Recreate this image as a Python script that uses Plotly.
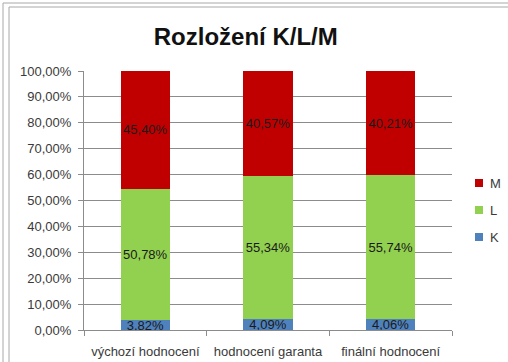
import plotly.graph_objects as go

# Score distribution per evaluation stage (percent of total)
categories = ["výchozí hodnocení", "hodnocení garanta", "finální hodnocení"]
k_values = [3.82, 4.09, 4.06]
l_values = [50.78, 55.34, 55.74]
m_values = [45.40, 40.57, 40.21]

series = [("K", k_values, "#4F81BD"), ("L", l_values, "#92D050"), ("M", m_values, "#C00000")]

FONT = "Liberation Sans"
GRID = "#8C8C8C"
TEXT = "#3A3A3A"

W, H = 508, 362
L_M, R_M, T_M, B_M = 84, 56, 71, 32
PW, PH = W - L_M - R_M, H - T_M - B_M


def px_x(x):
    return (x - L_M) / PW


def px_y(y):
    return (H - B_M - y) / PH


fig = go.Figure()
for name, vals, color in series:
    fig.add_trace(go.Bar(
        x=categories, y=vals, name=name,
        marker=dict(color=color, line=dict(width=0)),
        texttemplate="%{y:.2f}%", textposition="inside", textangle=0,
        insidetextanchor="middle", constraintext="none",
        textfont=dict(family=FONT, size=13, color="#1A1A1A"),
        showlegend=False, width=0.4,
    ))

# Window frame lines
frame = [
    (3, 3, W, 3, "#A8A8A8"),
    (9, 7, W, 7, "#A8A8A8"),
    (3, 3, 3, H, "#A8A8A8"),
    (9, 7, 9, H, "#A8A8A8"),
]
shapes = [
    dict(type="line", xref="paper", yref="paper",
         x0=px_x(x0), y0=px_y(y0), x1=px_x(x1), y1=px_y(y1),
         line=dict(color=c, width=1))
    for x0, y0, x1, y1, c in frame
]

# Compact legend to the right of the plot: square swatch + label, M on top
annotations = []
legend_rows = [183, 210, 237]
for (name, _vals, color), row in zip(reversed(series), legend_rows):
    shapes.append(dict(type="rect", xref="paper", yref="paper",
                       x0=px_x(475), x1=px_x(483), y0=px_y(row + 4), y1=px_y(row - 4),
                       fillcolor=color, line=dict(width=0)))
    annotations.append(dict(text=name, xref="paper", yref="paper",
                            x=px_x(488), y=px_y(row), xanchor="left", yanchor="middle",
                            showarrow=False, font=dict(family=FONT, size=13, color=TEXT)))

fig.update_layout(
    width=W, height=H,
    margin=dict(l=L_M, r=R_M, t=T_M, b=B_M, autoexpand=False),
    barmode="stack",
    separators=", ",
    showlegend=False,
    paper_bgcolor="white", plot_bgcolor="white",
    font=dict(family=FONT, size=13, color=TEXT),
    title=dict(text="<b>Rozložení K/L/M</b>", x=px_x(262), xanchor="center",
               y=1 - 37 / H, yanchor="middle",
               font=dict(family=FONT, size=24, color="#111111")),
    shapes=shapes,
    annotations=annotations,
    xaxis=dict(type="category", tickson="boundaries", ticks="outside", ticklen=5,
               tickangle=0, ticklabelstandoff=9,
               tickcolor=GRID, showline=True, linecolor=GRID, linewidth=1,
               showgrid=False, tickfont=dict(family=FONT, size=13, color=TEXT)),
    yaxis=dict(range=[0, 100], dtick=10, tickformat=".2f", ticksuffix="%",
               ticks="outside", ticklen=5, tickcolor=GRID,
               showline=True, linecolor=GRID, linewidth=1,
               showgrid=True, gridcolor=GRID, gridwidth=1, zeroline=False,
               ticklabelstandoff=4,
               tickfont=dict(family=FONT, size=13, color=TEXT)),
)

fig.write_html("out.html")
